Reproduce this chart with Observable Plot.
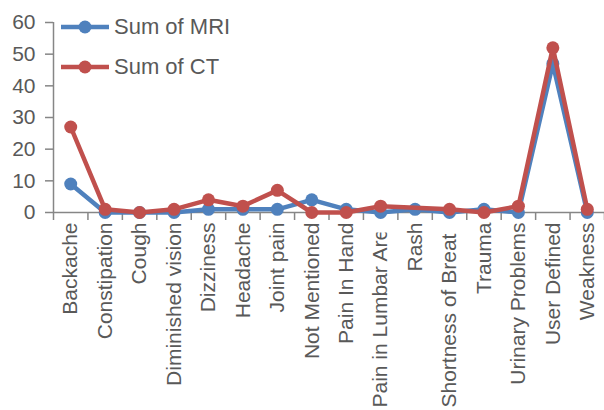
<!DOCTYPE html>
<html>
<head>
<meta charset="utf-8">
<script src="https://cdn.jsdelivr.net/npm/d3@7"></script>
<script src="https://cdn.jsdelivr.net/npm/@observablehq/plot@0.6"></script>
<style>
  html, body { margin: 0; padding: 0; background: #fff; }
  #wrap { position: relative; width: 604px; height: 410px; overflow: hidden; }
  #legend { position: absolute; left: 60px; top: 12px; font-family: "Liberation Sans", Arial, sans-serif; font-size: 22px; color: #595959; }
  .item { display: flex; align-items: center; height: 30px; margin-bottom: 10px; }
  .item svg { margin-right: 4px; }
</style>
</head>
<body>
<div id="wrap"><div id="legend"></div></div>
<script>
const categories = ["Backache","Constipation","Cough","Diminished vision","Dizziness","Headache","Joint pain","Not Mentioned","Pain In Hand","Pain in Lumbar Area","Rash","Shortness of Breath","Trauma","Urinary Problems","User Defined","Weakness"];
const mriValues = [9, 0, 0, 0, 1, 1, 1, 4, 1, 0, 1, 0, 1, 0, 47, 0];
const ctValues  = [27, 1, 0, 1, 4, 2, 7, 0, 0, 2, null, 1, 0, 2, 52, 1];
const yTicks = [0, 10, 20, 30, 40, 50, 60];
const seriesNames = ["Sum of MRI", "Sum of CT"];
const seriesColors = ["#4F81BD", "#C0504D"];

const n = categories.length;
const idx = d3.range(n);
const mri = idx.map(i => ({i, v: mriValues[i]})).filter(d => d.v != null);
const ct = idx.map(i => ({i, v: ctValues[i]})).filter(d => d.v != null);
const bounds = d3.range(n + 1).map(i => i - 0.5);

const axisGray = "#868686";
const textGray = "#595959";

const chart = Plot.plot({
  width: 604,
  height: 410,
  marginLeft: 53,
  marginRight: 0,
  marginTop: 22,
  marginBottom: 198,
  style: {fontFamily: "'Liberation Sans', Arial, sans-serif", fontSize: "22px", color: textGray, background: "#fff"},
  x: {type: "linear", domain: [-0.5, n - 0.5]},
  y: {domain: [0, 60]},
  marks: [
    Plot.axisY({ticks: yTicks, tickSize: 8, tickPadding: 10, stroke: axisGray, strokeWidth: 1.5, fill: textGray, label: null, fontSize: 21}),
    Plot.axisX({ticks: bounds, tickSize: 8, tickFormat: () => "", stroke: axisGray, strokeWidth: 1.5, label: null}),
    Plot.axisX({ticks: idx, tickSize: 0, tickPadding: 10, tickRotate: -90, tickFormat: i => categories[i], fill: textGray, label: null, fontSize: 21}),
    Plot.ruleX([-0.5], {stroke: axisGray, strokeWidth: 1.5}),
    Plot.ruleY([0], {stroke: axisGray, strokeWidth: 1.5}),
    Plot.line(mri, {x: "i", y: "v", stroke: seriesColors[0], strokeWidth: 4.5}),
    Plot.dot(mri, {x: "i", y: "v", r: 6.5, fill: seriesColors[0]}),
    Plot.line(ct, {x: "i", y: "v", stroke: seriesColors[1], strokeWidth: 4.5}),
    Plot.dot(ct, {x: "i", y: "v", r: 6.5, fill: seriesColors[1]})
  ]
});
const wrap = document.getElementById("wrap");
wrap.insertBefore(chart, wrap.firstChild);

// Long category labels: align to the bottom of the label area and clip at its top, as in the source chart
const avail = 185;
const svgNS = "http://www.w3.org/2000/svg";
const defs = document.createElementNS(svgNS, "defs");
const cp = document.createElementNS(svgNS, "clipPath");
cp.setAttribute("id", "labelclip");
const cr = document.createElementNS(svgNS, "rect");
cr.setAttribute("x", 0); cr.setAttribute("y", 222); cr.setAttribute("width", 604); cr.setAttribute("height", 188);
cp.appendChild(cr); defs.appendChild(cp); chart.appendChild(defs);
const labelSet = new Set(categories);
chart.querySelectorAll("text").forEach(t => {
  if (labelSet.has(t.textContent) && t.getComputedTextLength() > avail) {
    t.setAttribute("text-anchor", "start");
    t.setAttribute("x", -avail);
    const g = document.createElementNS(svgNS, "g");
    g.setAttribute("clip-path", "url(#labelclip)");
    t.parentNode.insertBefore(g, t);
    g.appendChild(t);
  }
});

const legend = document.getElementById("legend");
seriesNames.forEach((name, k) => {
  const item = document.createElement("div");
  item.className = "item";
  item.innerHTML = `<svg width="50" height="16"><line x1="1" y1="8" x2="49" y2="8" stroke="${seriesColors[k]}" stroke-width="4.5"/><circle cx="25" cy="8" r="6.5" fill="${seriesColors[k]}"/></svg><span>${name}</span>`;
  legend.appendChild(item);
});
</script>
</body>
</html>
